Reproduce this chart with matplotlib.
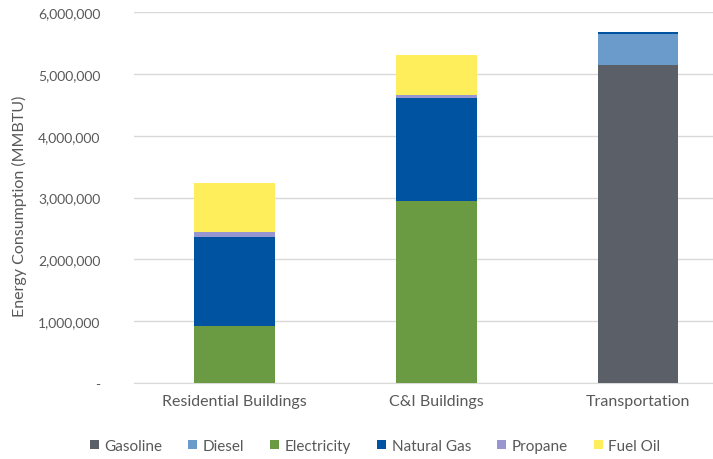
import numpy as np
import matplotlib.pyplot as plt
from matplotlib.ticker import FuncFormatter

plt.rcParams['font.family'] = ['Lato', 'DejaVu Sans']

sectors = ['Residential Buildings', 'C&I Buildings', 'Transportation']
fuels = ['Gasoline', 'Diesel', 'Electricity', 'Natural Gas', 'Propane', 'Fuel Oil']
colors = ['#5b6068', '#6a9bcb', '#6a9a42', '#0053a0', '#9896d0', '#ffee5c']

gasoline = [0, 0, 5140000]
diesel = [0, 0, 510000]
electricity = [920000, 2950000, 0]
natural_gas = [1440000, 1660000, 20000]
propane = [80000, 40000, 0]
fuel_oil = [800000, 660000, 0]

series = [gasoline, diesel, electricity, natural_gas, propane, fuel_oil]

fig = plt.figure(figsize=(7.13, 4.60), dpi=100)
ax = fig.add_axes([134/713, 76/460, 1 - 134/713, 371/460])

x = np.arange(len(sectors))
bottom = np.zeros(len(sectors))
for name, vals, c in zip(fuels, series, colors):
    ax.bar(x, vals, 0.4, bottom=bottom, color=c, label=name, zorder=3)
    bottom += np.array(vals)

ax.set_xlim(-0.5, (713 - 235) / 201.5)
ax.set_ylim(0, 6000000)
ax.set_yticks(np.arange(0, 6000001, 1000000))
ax.yaxis.set_major_formatter(FuncFormatter(lambda v, p: '-' if v == 0 else f'{v:,.0f}'))
ax.set_xticks(x)
ax.set_xticklabels(sectors)
ax.grid(axis='y', color='#d9d9d9', linewidth=1, zorder=0)
for s in ['top', 'right', 'left']:
    ax.spines[s].set_visible(False)
ax.spines['bottom'].set_color('#d9d9d9')
ax.tick_params(axis='both', length=0, colors='#595959')
ax.tick_params(axis='y', pad=24, labelsize=10)
ax.tick_params(axis='x', pad=8, labelsize=11.5)
ax.set_ylabel('Energy Consumption (MMBTU)', color='#595959', fontsize=11.5)
ax.yaxis.set_label_coords(-0.185, 0.48)

fig.legend(loc='center', bbox_to_anchor=(375/713, 1 - 447/460), ncol=6, frameon=False,
           fontsize=11, handlelength=0.6, handleheight=0.6, handletextpad=0.35,
           columnspacing=1.7, labelcolor='#595959')

fig.savefig('out.png', dpi=100)
